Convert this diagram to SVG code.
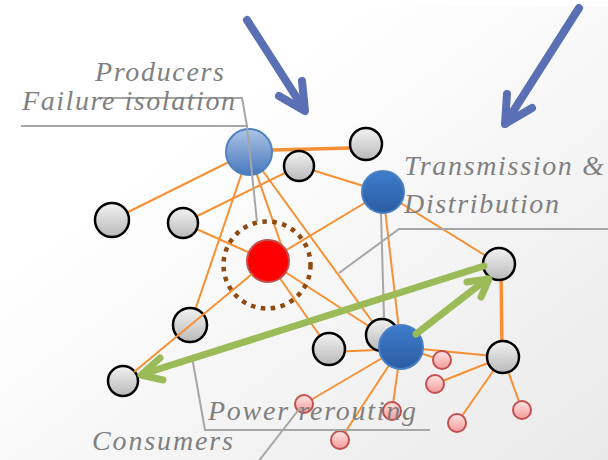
<svg xmlns="http://www.w3.org/2000/svg" width="608" height="460" viewBox="0 0 608 460">
<defs>
<linearGradient id="bg" x1="0" y1="0" x2="1" y2="1"><stop offset="0.3" stop-color="#ffffff"/><stop offset="1" stop-color="#e9e9e9"/></linearGradient>
<linearGradient id="gGray" x1="0" y1="0" x2="0" y2="1"><stop offset="0" stop-color="#f2f2f2"/><stop offset="1" stop-color="#b9b9b9"/></linearGradient>
<linearGradient id="gPink" x1="0" y1="0" x2="0" y2="1"><stop offset="0" stop-color="#ffe4e4"/><stop offset="1" stop-color="#f49a9a"/></linearGradient>
<linearGradient id="gProd" x1="0" y1="0" x2="0" y2="1"><stop offset="0" stop-color="#adc4e4"/><stop offset="1" stop-color="#4677be"/></linearGradient>
<linearGradient id="gBlue" x1="0" y1="0" x2="0" y2="1"><stop offset="0" stop-color="#3e7dcb"/><stop offset="1" stop-color="#2b5ca3"/></linearGradient>
</defs>
<style>
.e{stroke:#f79035;stroke-width:2;fill:none}
.et{stroke:#f79035;stroke-width:3.5;fill:none}
.gn{fill:url(#gGray);stroke:#000;stroke-width:2.5}
.pk{fill:url(#gPink);stroke:#c0504d;stroke-width:2}
.co{stroke:#a6a6a6;stroke-width:2;fill:none}
.lb{font-style:italic;font-size:28px;fill:#7f7f7f}
.ba{stroke:#5b70b4;stroke-width:8;fill:none;stroke-linecap:round;stroke-linejoin:round}
.ga{stroke:#9bbb59;stroke-width:7;fill:none;stroke-linecap:round;stroke-linejoin:round}
</style>
<rect x="0" y="0" width="608" height="460" fill="#ffffff"/>
<rect x="0" y="6" width="608" height="454" fill="url(#bg)"/>

<g id="connectors">
<line class="e" x1="249" y1="152" x2="112" y2="220"/>
<line class="et" x1="272" y1="150" x2="351" y2="148"/>
<line class="e" x1="249" y1="152" x2="190" y2="325"/>
<line class="e" x1="249" y1="152" x2="283" y2="250"/>
<line class="e" x1="249" y1="152" x2="382" y2="335"/>
<line class="e" x1="183" y1="223" x2="299" y2="166"/>
<line class="e" x1="299" y1="166" x2="383" y2="192"/>
<line class="e" x1="183" y1="223" x2="268" y2="261"/>
<line class="e" x1="268" y1="261" x2="383" y2="192"/>
<line class="e" x1="268" y1="261" x2="329" y2="349"/>
<line class="e" x1="268" y1="261" x2="401" y2="347"/>
<line class="e" x1="383" y1="192" x2="401" y2="347"/>
<line class="e" x1="383" y1="192" x2="499" y2="264"/>
<line class="et" x1="501" y1="264" x2="502" y2="357"/>
<line class="e" x1="401" y1="347" x2="503" y2="357"/>
<line class="e" x1="401" y1="347" x2="442" y2="360"/>
<line class="e" x1="503" y1="357" x2="435" y2="384"/>
<line class="e" x1="503" y1="357" x2="457" y2="423"/>
<line class="e" x1="503" y1="357" x2="522" y2="410"/>
<line class="e" x1="401" y1="347" x2="304" y2="404"/>
<line class="e" x1="401" y1="347" x2="340" y2="440"/>
<line class="e" x1="401" y1="347" x2="392" y2="411"/>
<line class="e" x1="329" y1="352" x2="401" y2="349"/>
<polyline class="co" points="381,213 384,318"/>
</g>

<g id="producer"><circle cx="249" cy="152" r="23" fill="url(#gProd)" stroke="#4f80c0" stroke-width="2"/></g>
<g id="n-g1"><circle class="gn" cx="299" cy="166" r="15"/></g>
<g id="n-g2"><circle class="gn" cx="366" cy="144" r="16"/></g>
<g id="n-td"><circle cx="383" cy="192" r="21" fill="url(#gBlue)" stroke="#4a80c4" stroke-width="2"/></g>
<g id="n-g3"><circle class="gn" cx="112" cy="220" r="17"/></g>
<g id="n-g4"><circle class="gn" cx="183" cy="223" r="15"/></g>
<g id="n-red">
<circle cx="267" cy="265" r="43.5" fill="none" stroke="#8f4a10" stroke-width="4.5" stroke-dasharray="4.5 5.5"/>
<circle cx="268" cy="261" r="21" fill="#ff0000" stroke="#c0504d" stroke-width="2"/>
</g>
<g id="n-g5"><circle class="gn" cx="190" cy="325" r="17"/></g>
<g id="n-g6"><circle class="gn" cx="123" cy="381" r="15"/></g>
<g id="n-g7"><circle class="gn" cx="382" cy="335" r="16"/></g>
<g id="n-g8"><circle class="gn" cx="329" cy="349" r="16"/></g>
<g id="n-hub"><circle cx="401" cy="347" r="22" fill="url(#gBlue)" stroke="#4a80c4" stroke-width="2"/></g>
<g id="n-g9"><circle class="gn" cx="499" cy="264" r="16"/></g>
<g id="n-g10"><circle class="gn" cx="503" cy="357" r="16"/></g>
<g id="n-pinks">
<circle class="pk" cx="304" cy="404" r="9"/>
<circle class="pk" cx="340" cy="440" r="9"/>
<circle class="pk" cx="392" cy="411" r="9"/>
<circle class="pk" cx="442" cy="360" r="9"/>
<circle class="pk" cx="435" cy="384" r="9"/>
<circle class="pk" cx="457" cy="423" r="9"/>
<circle class="pk" cx="522" cy="410" r="9"/>
</g>

<g id="connectors-over">
<line class="e" x1="252" y1="274" x2="134" y2="372"/>
<polyline class="co" points="98,98 242,98 247,126"/>
<polyline class="co" points="21,126 247,126 257,222"/>
<polyline class="co" points="608,229 399,229 339,273"/>
<polyline class="co" points="430,430 205,430 192,357"/>
<line class="co" x1="258" y1="462" x2="300" y2="408"/>
<line class="ba" x1="247" y1="20" x2="304" y2="109"/>
<polyline class="ba" points="279,96 305,111 302,81"/>
<line class="ba" x1="579" y1="8" x2="507" y2="121"/>
<polyline class="ba" points="507,94 505,124 532,108"/>
<line class="ga" x1="484" y1="266" x2="143" y2="374"/>
<polyline class="ga" points="160,358 141,375 163,380"/>
<line class="ga" x1="416" y1="334" x2="487" y2="279"/>
<polyline class="ga" points="467,282 489,279 481,297"/>
</g>

<g id="labels" font-family="'Liberation Serif', 'DejaVu Serif', serif">
<text class="lb" x="95" y="81" textLength="129" lengthAdjust="spacing">Producers</text>
<text class="lb" x="22" y="110" textLength="213" lengthAdjust="spacing">Failure isolation</text>
<text class="lb" x="404" y="175" textLength="200" lengthAdjust="spacing">Transmission &amp;</text>
<text class="lb" x="404" y="213" textLength="155" lengthAdjust="spacing">Distribution</text>
<text class="lb" x="208" y="420" textLength="208" lengthAdjust="spacing">Power rerouting</text>
<text class="lb" x="92" y="450" textLength="141" lengthAdjust="spacing">Consumers</text>
</g>
</svg>
